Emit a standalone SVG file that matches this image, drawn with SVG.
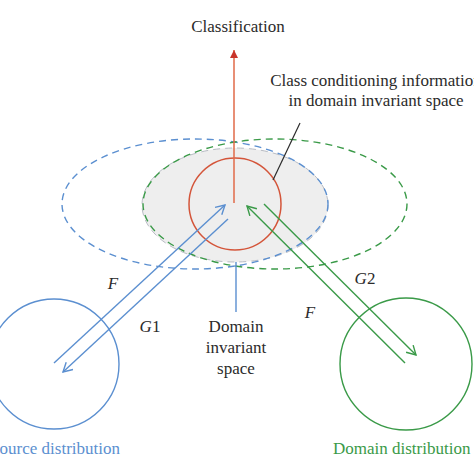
<svg xmlns="http://www.w3.org/2000/svg" width="474" height="474" viewBox="0 0 474 474">
<style>
text{font-family:"Liberation Serif","Times New Roman",serif;font-size:17px;fill:#2b2b2b}
.it{font-style:italic}
.up{font-style:normal}
.blue{stroke:#5b8fd0;fill:none;stroke-width:1.4}
.green{stroke:#3a9a48;fill:none;stroke-width:1.4}
.dash{stroke-dasharray:7 5}
</style>
<defs>
<marker id="redHead" markerUnits="userSpaceOnUse" markerWidth="10" markerHeight="10" refX="8" refY="4" orient="auto">
<path d="M0,0 L8,4 L0,8 Z" fill="#c9352b"/>
</marker>
<marker id="blueHead" markerUnits="userSpaceOnUse" markerWidth="14" markerHeight="14" refX="10" refY="6" orient="auto">
<path d="M1,1 L10,6 L1,11" fill="none" stroke="#5b8fd0" stroke-width="1.4"/>
</marker>
<marker id="greenHead" markerUnits="userSpaceOnUse" markerWidth="14" markerHeight="14" refX="10" refY="6" orient="auto">
<path d="M1,1 L10,6 L1,11" fill="none" stroke="#3a9a48" stroke-width="1.4"/>
</marker>
</defs>

<g id="invariant-space">
<ellipse cx="235" cy="205" rx="93" ry="57" fill="#eeeeee" stroke="#b8bcc4" stroke-width="1" stroke-dasharray="7 5"/>
</g>
<g id="source-space">
<ellipse cx="195" cy="204" rx="133" ry="65" class="blue dash"/>
</g>
<g id="domain-space">
<ellipse cx="275" cy="204" rx="132" ry="65" class="green dash"/>
</g>
<g id="class-circle">
<circle cx="235" cy="204" r="46" fill="none" stroke="#d4553a" stroke-width="1.5"/>
</g>
<g id="source-distribution">
<circle cx="54" cy="364" r="65" class="blue"/>
<text x="120" y="454" text-anchor="end" style="fill:#5b8fd0">Source distribution</text>
</g>
<g id="domain-distribution">
<circle cx="406" cy="364" r="66" class="green"/>
<text x="333" y="454" style="fill:#3a9a48">Domain distribution</text>
</g>

<g id="connectors">
<line x1="234" y1="203" x2="234" y2="50" stroke="#e06a48" stroke-width="1.5" marker-end="url(#redHead)"/>
<line x1="54" y1="363" x2="225" y2="205" class="blue" marker-end="url(#blueHead)"/>
<line x1="228" y1="219" x2="63" y2="372" class="blue" marker-end="url(#blueHead)"/>
<line x1="405" y1="363" x2="247" y2="206" class="green" marker-end="url(#greenHead)"/>
<line x1="264" y1="204" x2="416" y2="355" class="green" marker-end="url(#greenHead)"/>
<line x1="236" y1="262" x2="236" y2="312" stroke="#5b8fd0" stroke-width="1.4"/>
<line x1="300" y1="123" x2="273" y2="180" stroke="#2b2b2b" stroke-width="1.2"/>
</g>

<g id="labels">
<text x="238" y="32" text-anchor="middle">Classification</text>
<text x="376" y="86" text-anchor="middle">Class conditioning information</text>
<text x="376" y="106" text-anchor="middle">in domain invariant space</text>
<text x="236" y="332" text-anchor="middle">Domain</text>
<text x="236" y="353" text-anchor="middle">invariant</text>
<text x="236" y="374" text-anchor="middle">space</text>
<text x="113" y="289" text-anchor="middle" class="it">F</text>
<text x="150" y="332" text-anchor="middle" class="it">G<tspan class="up">1</tspan></text>
<text x="365" y="284" text-anchor="middle" class="it">G<tspan class="up">2</tspan></text>
<text x="310" y="318" text-anchor="middle" class="it">F</text>
</g>
</svg>
